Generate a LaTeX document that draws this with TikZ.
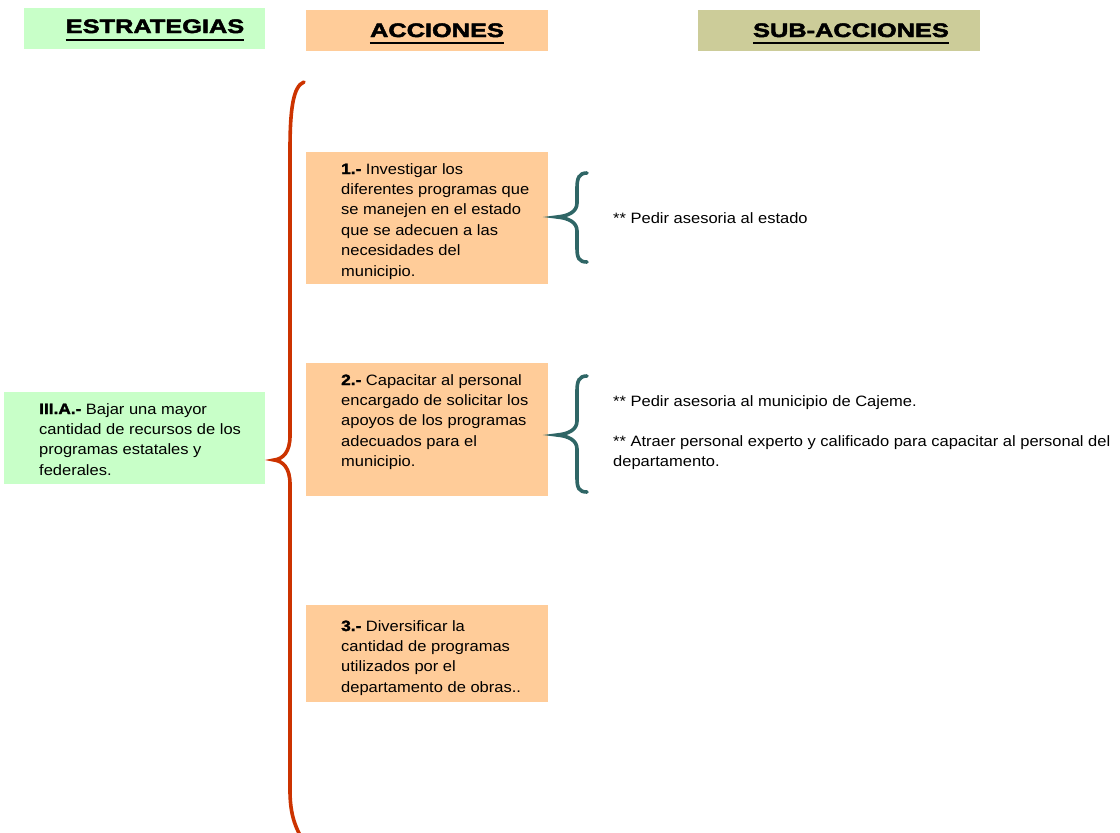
\documentclass[tikz,border=0pt]{standalone}
\usepackage{fontspec}
\setmainfont{Liberation Sans}[FakeStretch=1.1]
\newfontfamily\blackfont{Liberation Sans Bold}[FakeStretch=1.3,FakeBold=2.5]
\newfontfamily\prefont{Liberation Sans Bold}[FakeStretch=1.15,FakeBold=2]
\definecolor{estgreen}{HTML}{C8FFC8}
\definecolor{accpeach}{HTML}{FFCC99}
\definecolor{subkhaki}{HTML}{CCCC99}
\definecolor{bigbrace}{HTML}{CC3300}
\definecolor{smallbrace}{HTML}{2F6666}
\begin{document}
\begin{tikzpicture}[x=1pt,y=-1pt,
  head/.style={inner sep=0pt, anchor=base, font=\blackfont\fontsize{19.5}{20}\selectfont},
  % multi-line texts are placed by the baseline of their last line
  body/.style={inner sep=0pt, anchor=base west, align=left,
    font=\fontsize{15}{20.4}\selectfont},
  heavyline/.style={line width=1.6pt},
  bbrace/.style={draw=bigbrace, line width=3.6pt, line cap=round},
  sbrace/.style={draw=smallbrace, line width=3.6pt, line cap=round}]
\useasboundingbox (0,0) rectangle (1120,833);
\clip (0,0) rectangle (1120,833);

% column headings
\fill[estgreen] (24,8) rectangle (265,49);
\fill[accpeach] (306,10) rectangle (548,51);
\fill[subkhaki] (698,10) rectangle (980,51);
\node[head] (hEst) at (155,33) {ESTRATEGIAS};
\node[head] (hAcc) at (437,37) {ACCIONES};
\node[head] (hSub) at (851,37) {SUB-ACCIONES};
\draw[heavyline] ([yshift=-7pt]hEst.base west) -- ([yshift=-7pt]hEst.base east);
\draw[heavyline] ([yshift=-6pt]hAcc.base west) -- ([yshift=-6pt]hAcc.base east);
\draw[heavyline] ([yshift=-6pt]hSub.base west) -- ([yshift=-6pt]hSub.base east);

% strategy box
\fill[estgreen] (4,392) rectangle (265,484);
\node[body] (est) at (39,475.2) {{\prefont III.A.-} Bajar una mayor\\cantidad de recursos de los\\programas estatales y\\federales.};

% action boxes
\fill[accpeach] (306,152) rectangle (548,284);
\fill[accpeach] (306,363) rectangle (548,496);
\fill[accpeach] (306,605) rectangle (548,702);
\node[body] (a1) at (341,276) {{\prefont 1.-} Investigar los\\diferentes programas que\\se manejen en el estado\\que se adecuen a las\\necesidades del\\municipio.};
\node[body] (a2) at (341,466.6) {{\prefont 2.-} Capacitar al personal\\encargado de solicitar los\\apoyos de los programas\\adecuados para el\\municipio.};
\node[body] (a3) at (341,692.2) {{\prefont 3.-} Diversificar la\\cantidad de programas\\utilizados por el\\departamento de obras..};

% sub-actions
\node[body] (s1) at (613,223) {** Pedir asesoria al estado};
\node[body] (s2) at (613,406) {** Pedir asesoria al municipio de Cajeme.};
\node[body] (s3) at (613,466.4) {** Atraer personal experto y calificado para capacitar al personal del\\departamento.};

% large brace joining the strategy to its actions
\draw[bbrace] (304,82) .. controls (293,86) and (290,110) .. (290,150)
  -- (290,436) .. controls (290,452) and (283,459) .. (274,460)
  .. controls (283,461) and (290,468) .. (290,484)
  -- (290,790) .. controls (290,812) and (294,826) .. (304,842);

% small braces joining actions to sub-actions
\draw[sbrace] (587,173) .. controls (579,173) and (577,178) .. (577,188)
  -- (577,203) .. controls (577,212) and (568,216) .. (557,217)
  .. controls (568,218) and (577,222) .. (577,231)
  -- (577,248) .. controls (577,258) and (579,262) .. (587,262);
\draw[sbrace] (587,376) .. controls (579,376) and (577,381) .. (577,391)
  -- (577,421) .. controls (577,430) and (568,434) .. (557,435)
  .. controls (568,436) and (577,440) .. (577,449)
  -- (577,478) .. controls (577,488) and (579,492) .. (587,492);
\end{tikzpicture}
\end{document}
